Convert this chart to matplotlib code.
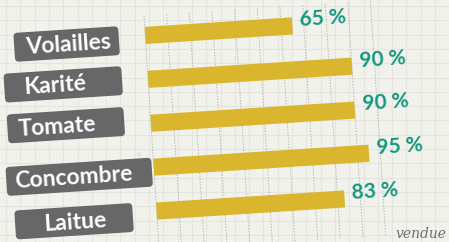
import matplotlib.pyplot as plt
import numpy as np
from matplotlib.patches import FancyBboxPatch
from matplotlib.transforms import Affine2D

categories = ["Volailles", "Karité", "Tomate", "Concombre", "Laitue"]
values = [65, 90, 90, 95, 83]
pct_labels = ["65 %", "90 %", "90 %", "95 %", "83 %"]

W, H = 449, 242
fig = plt.figure(figsize=(W / 100, H / 100), dpi=100)
fig.patch.set_facecolor("#f2f2ed")

# faint paper grid behind everything
bg = fig.add_axes([0, 0, 1, 1])
bg.set_xlim(0, W)
bg.set_ylim(H, 0)
bg.axis("off")
for gx in np.arange(6, W, 14.3):
    bg.axvline(gx, color="#e5e5df", lw=0.8, zorder=0)
for gy in np.arange(6, H, 14.3):
    bg.axhline(gy, color="#e5e5df", lw=0.8, zorder=0)

# main axes, drawn level and then tilted a few degrees like the printed page
ax = fig.add_axes([0, 0, 1, 1])
ax.patch.set_alpha(0)
x0, px = 151, 2.27          # 0 % position and pixels per %
y0, step = 213.8, 44        # first bar centre (from bottom) and spacing
ax.set_xlim(-x0 / px, (W - x0) / px)
ax.set_ylim(y0 / step, (y0 - H) / step)
ax.axis("off")
rot = Affine2D().rotate_deg_around(260, 121, 3.7)
tr = ax.transData + rot

# dotted vertical guides every 10 %
for t in range(0, 101, 10):
    ln, = ax.plot([t, t], [-0.45, 4.9], color="#b9b9b4", lw=0.7,
                  ls=(0, (1.5, 1.5)), zorder=1)
    ln.set_transform(tr)

y = np.arange(len(categories))
bars = ax.barh(y, values, height=0.39, color="#d9b62d", zorder=2)
for b in bars:
    b.set_transform(tr)

for i, (v, lab) in enumerate(zip(values, pct_labels)):
    ax.text(v + 3.2, i - 0.15, lab, color="#12977f", fontsize=15,
            fontweight="bold", family="Lato", ha="left", va="center",
            rotation=3.7, zorder=3, transform=tr)

# grey brush-style label boxes (pixels in the level frame)
box_cx = [72, 66, 66, 76, 68]
box_w = [105, 118, 117, 146, 118]
text_cx = [73.5, 57.8, 57.1, 70.8, 69]
label_dy = [0.08, -0.01, -0.08, 0.11, 0.11]
box_h = 29 / step
for i, name in enumerate(categories):
    cy = i + label_dy[i]
    bx = (box_cx[i] - box_w[i] / 2 - x0) / px
    box = FancyBboxPatch((bx, cy - box_h / 2), box_w[i] / px, box_h,
                         boxstyle="round,pad=0,rounding_size=1.8",
                         mutation_aspect=px / step,
                         fc="#676767", ec="none", zorder=4)
    ax.add_patch(box)
    box.set_transform(tr)
    tx = (text_cx[i] - x0) / px
    ax.text(tx, cy + 0.02, name, color="white", fontsize=16.5, fontweight="bold",
            family="Lato", ha="center", va="center", rotation=3.7,
            zorder=5, transform=tr)
    if name == "Concombre":
        ax.text(tx + 66 / px, cy - 13 / step, "*", color="#dddddd",
                fontsize=12, family="Lato", ha="center", va="center",
                rotation=3.7, zorder=5, transform=tr)

# handwriting note at the bottom edge
bg.text(446, 241, "vendue", color="#6f6f6f", fontsize=10, style="italic",
        family="DejaVu Serif", ha="right", va="bottom", zorder=1)

fig.savefig("out.png", dpi=100, facecolor=fig.get_facecolor())
